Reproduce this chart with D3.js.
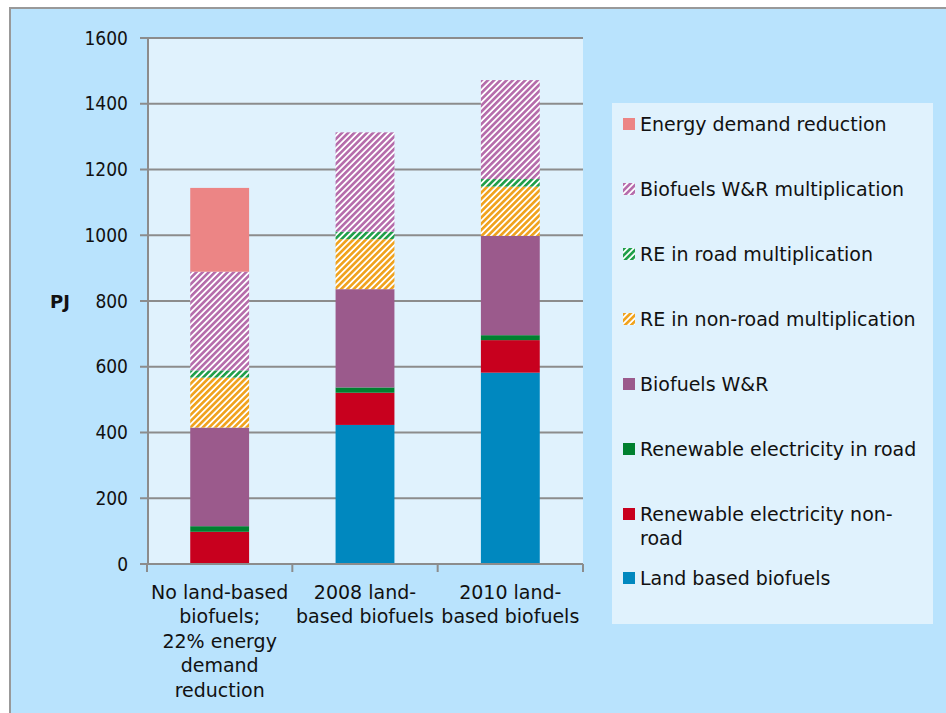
<!DOCTYPE html>
<html>
<head>
<meta charset="utf-8">
<script src="https://cdn.jsdelivr.net/npm/d3@7"></script>
<style>
  body { margin: 0; background: #fff; }
  svg { display: block; }
  text { font-family: "DejaVu Sans", sans-serif; fill: #111; }
  text.tick { font-family: "DejaVu Sans Condensed", "DejaVu Sans", sans-serif; }
</style>
</head>
<body>
<svg></svg>
<script>
var categories = ['No land-based biofuels; 22% energy demand reduction', '2008 land-based biofuels', '2010 land-based biofuels'];
var categoryLines = [
    ['No land-based', 'biofuels;', '22% energy', 'demand', 'reduction'],
    ['2008 land-', 'based biofuels'],
    ['2010 land-', 'based biofuels']
];

// bottom to top
var seriesNames = [
    'Land based biofuels',
    'Renewable electricity non-road',
    'Renewable electricity in road',
    'Biofuels W&R',
    'RE in non-road multiplication',
    'RE in road multiplication',
    'Biofuels W&R multiplication',
    'Energy demand reduction'
];
var landBased      = [0, 423, 582];
var reNonRoad      = [98, 98, 99];
var reRoad         = [17, 16, 15];
var biofuelsWR     = [300, 299, 302];
var reNonRoadMult  = [152, 152, 150];
var reRoadMult     = [22, 23, 23];
var biofuelsWRMult = [300, 302, 301];
var demandRed      = [255, 0, 0];
var seriesValues = [landBased, reNonRoad, reRoad, biofuelsWR, reNonRoadMult, reRoadMult, biofuelsWRMult, demandRed];

var yTicks = [0, 200, 400, 600, 800, 1000, 1200, 1400, 1600];

var colors = ['#0088bf', '#c8001e', '#00802f', '#9b5a8c', '#f0a21c', '#1e9e48', '#b56cab', '#ec8585'];
var hatched = [false, false, false, false, true, true, true, false];

var W = 946, H = 713;
var svg = d3.select('svg').attr('width', W).attr('height', H);

var defs = svg.append('defs');
colors.forEach(function (c, i) {
    if (!hatched[i]) return;
    var p = defs.append('pattern')
        .attr('id', 'hatch' + i)
        .attr('patternUnits', 'userSpaceOnUse')
        .attr('width', 4.4)
        .attr('height', 4.4)
        .attr('patternTransform', 'rotate(45)');
    p.append('rect').attr('width', 4.4).attr('height', 4.4).attr('fill', '#fff');
    p.append('rect').attr('width', 2.6).attr('height', 4.4).attr('fill', c);
});
function fillOf(i) { return hatched[i] ? 'url(#hatch' + i + ')' : colors[i]; }

// outer frame
svg.append('rect')
    .attr('x', 10).attr('y', 8)
    .attr('width', W).attr('height', H)
    .attr('fill', '#b9e3fd')
    .attr('stroke', '#999')
    .attr('stroke-width', 2);

var x = d3.scaleBand().domain(categories).range([147, 583]).padding(0);
var y = d3.scaleLinear().domain([0, 1600]).range([564, 38]);
var barW = x.bandwidth() * 0.405;

// plot area
svg.append('rect')
    .attr('x', 148).attr('y', y(1600))
    .attr('width', 583 - 148).attr('height', y(0) - y(1600))
    .attr('fill', '#e0f2fd');

// gridlines + y ticks
svg.append('g').selectAll('line')
    .data(yTicks)
    .join('line')
    .attr('x1', 140).attr('x2', 583)
    .attr('y1', function (d) { return y(d); })
    .attr('y2', function (d) { return y(d); })
    .attr('stroke', '#8c8c8c')
    .attr('stroke-width', 2);

svg.append('g').selectAll('text')
    .data(yTicks)
    .join('text')
    .attr('class', 'tick')
    .attr('x', 128)
    .attr('y', function (d) { return y(d); })
    .attr('dy', '0.35em')
    .attr('text-anchor', 'end')
    .style('font-size', '19px')
    .text(function (d) { return d; });

svg.append('text')
    .attr('x', 60).attr('y', 302)
    .attr('dy', '0.35em')
    .attr('text-anchor', 'middle')
    .style('font-size', '18px')
    .style('font-weight', 'bold')
    .text('PJ');

// stacked bars
var table = categories.map(function (c, j) {
    var row = { cat: c };
    seriesNames.forEach(function (s, i) { row[s] = seriesValues[i][j]; });
    return row;
});
var stacked = d3.stack().keys(seriesNames)(table);

svg.append('g').selectAll('g')
    .data(stacked)
    .join('g')
    .attr('fill', function (d, i) { return fillOf(i); })
    .selectAll('rect')
    .data(function (d) { return d.filter(function (p) { return p[1] - p[0] > 0; }); })
    .join('rect')
    .attr('x', function (d) { return x(d.data.cat) + (x.bandwidth() - barW) / 2; })
    .attr('width', barW)
    .attr('y', function (d) { return y(d[1]); })
    .attr('height', function (d) { return y(d[0]) - y(d[1]); });

// axes lines
svg.append('line')
    .attr('x1', 148).attr('x2', 148)
    .attr('y1', y(1600)).attr('y2', y(0))
    .attr('stroke', '#8c8c8c').attr('stroke-width', 2);
svg.append('line')
    .attr('x1', 140).attr('x2', 583)
    .attr('y1', y(0)).attr('y2', y(0))
    .attr('stroke', '#8c8c8c').attr('stroke-width', 2);
var bounds = categories.map(function (c) { return x(c); }).concat([x.range()[1]]);
svg.append('g').selectAll('line')
    .data(bounds)
    .join('line')
    .attr('x1', function (d) { return d; })
    .attr('x2', function (d) { return d; })
    .attr('y1', y(0)).attr('y2', y(0) + 8)
    .attr('stroke', '#8c8c8c').attr('stroke-width', 2);

// category labels
var catG = svg.append('g').selectAll('text')
    .data(categories)
    .join('text')
    .attr('text-anchor', 'middle')
    .style('font-size', '19px');
catG.each(function (c, j) {
    var t = d3.select(this);
    categoryLines[j].forEach(function (line, k) {
        t.append('tspan')
            .attr('x', x(c) + x.bandwidth() / 2)
            .attr('y', 592 + k * 24.5)
            .attr('dy', '0.35em')
            .text(line);
    });
});

// legend
svg.append('rect')
    .attr('x', 612).attr('y', 103)
    .attr('width', 321).attr('height', 521)
    .attr('fill', '#e0f2fd');

var legendOrder = seriesNames.slice().reverse();
var legendY = [124, 189, 254, 319, 384, 449, 514, 578];
var leg = svg.append('g').selectAll('g')
    .data(legendOrder)
    .join('g')
    .attr('transform', function (d, i) { return 'translate(623,' + legendY[i] + ')'; });
leg.append('rect')
    .attr('x', 0).attr('y', -6)
    .attr('width', 12).attr('height', 12)
    .attr('fill', function (d) { return fillOf(seriesNames.indexOf(d)); });
leg.append('text')
    .attr('x', 17)
    .style('font-size', '19px')
    .each(function (d) {
        var t = d3.select(this);
        var lines = d === 'Renewable electricity non-road' ? ['Renewable electricity non-', 'road'] : [d];
        lines.forEach(function (line, k) {
            t.append('tspan')
                .attr('x', 17)
                .attr('y', k * 24.5)
                .attr('dy', '0.35em')
                .text(line);
        });
    });
</script>
</body>
</html>
